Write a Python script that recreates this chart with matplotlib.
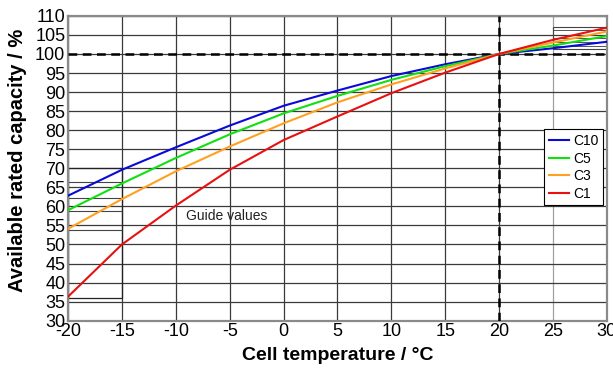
import numpy as np
import matplotlib
matplotlib.use("Agg")
import matplotlib.pyplot as plt
from matplotlib.patches import Rectangle

plt.rcParams['font.family'] = ['Liberation Sans', 'DejaVu Sans']

# data
temps = [-20, -15, -10, -5, 0, 5, 10, 15, 20, 25, 30]
c10 = [62.8, 69.6, 75.5, 81.2, 86.4, 90.4, 94.2, 97.3, 100, 101.5, 103.2]
c5 = [59.0, 66.0, 72.7, 78.9, 84.4, 89.0, 93.2, 96.8, 100, 102.2, 104.7]
c3 = [54.1, 61.9, 69.2, 75.7, 81.8, 87.3, 92.0, 96.2, 100, 103.0, 105.9]
c1 = [36.3, 50.0, 60.2, 69.6, 77.4, 83.6, 89.7, 95.1, 100, 103.7, 106.9]
series = [("C10", c10, "#0a0ad8"), ("C5", c5, "#10e010"),
          ("C3", c3, "#ffa020"), ("C1", c1, "#e81010")]

# guide value boxes
box_left_x = [-20, -15]
box_left_y = [36.0, 70.0]
box_left_lines = [66.3, 62.3, 58.8, 53.7]
box_right_x = [25, 30]
box_right_y = [101.3, 107.0]
box_right_lines = [106.3, 104.2, 103.2, 102.2]

x_ticks = np.arange(-20, 31, 5)
y_ticks = np.arange(30, 111, 5)

fig = plt.figure(figsize=(6.13, 3.69), dpi=100)
ax = fig.add_axes([0.111, 0.131, 0.879, 0.826])

ax.set_xlim(-20, 30)
ax.set_ylim(30, 110)
ax.set_xticks(x_ticks)
ax.set_yticks(y_ticks)
ax.set_xticklabels([str(t) for t in x_ticks])
ax.tick_params(length=0, labelsize=13, pad=2)
ax.grid(True, color="#3a3a3a", linewidth=0.9)
ax.xaxis.get_gridlines()[9].set_color("#a0a0a0")
ax.set_axisbelow(True)
for s in ax.spines.values():
    s.set_color("#8a8a8a")
    s.set_linewidth(1.6)

# guide boxes
ax.add_patch(Rectangle((box_left_x[0], box_left_y[0]), box_left_x[1] - box_left_x[0],
                       box_left_y[1] - box_left_y[0], fill=False, ec="#222222", lw=0.9))
ax.hlines(box_left_lines, box_left_x[0], box_left_x[1], color="#444444", lw=0.8)
ax.add_patch(Rectangle((box_right_x[0], box_right_y[0]), box_right_x[1] - box_right_x[0],
                       box_right_y[1] - box_right_y[0], fill=False, ec="#444444", lw=0.8))
ax.hlines(box_right_lines, box_right_x[0], box_right_x[1], color="#555555", lw=0.7)

ax.axhline(100, color="black", lw=1.8, ls=(0, (3.5, 2.2)), zorder=3)
ax.axvline(20, color="black", lw=1.8, ls=(0, (3.5, 2.2)), zorder=3)

for name, vals, col in series:
    ax.plot(temps, vals, color=col, lw=1.5, label=name, zorder=4)

ax.text(-9.1, 57.4, "Guide values", fontsize=10, va="center", ha="left", color="#222222")

leg = ax.legend(loc="upper left", bbox_to_anchor=(0.884, 0.628), fontsize=10,
                handlelength=1.4, handletextpad=0.3, borderpad=0.35, labelspacing=0.25,
                frameon=True, fancybox=False, framealpha=1, borderaxespad=0)
leg.get_frame().set_edgecolor("black")
leg.get_frame().set_linewidth(0.8)
leg.set_zorder(5)

ax.set_xlabel("Cell temperature / °C", fontsize=14, fontweight="bold", labelpad=5)
ax.set_ylabel("Available rated capacity / %", fontsize=14.5, fontweight="bold")
ax.yaxis.set_label_coords(-0.077, 0.527)

fig.savefig("out.png", dpi=100)
